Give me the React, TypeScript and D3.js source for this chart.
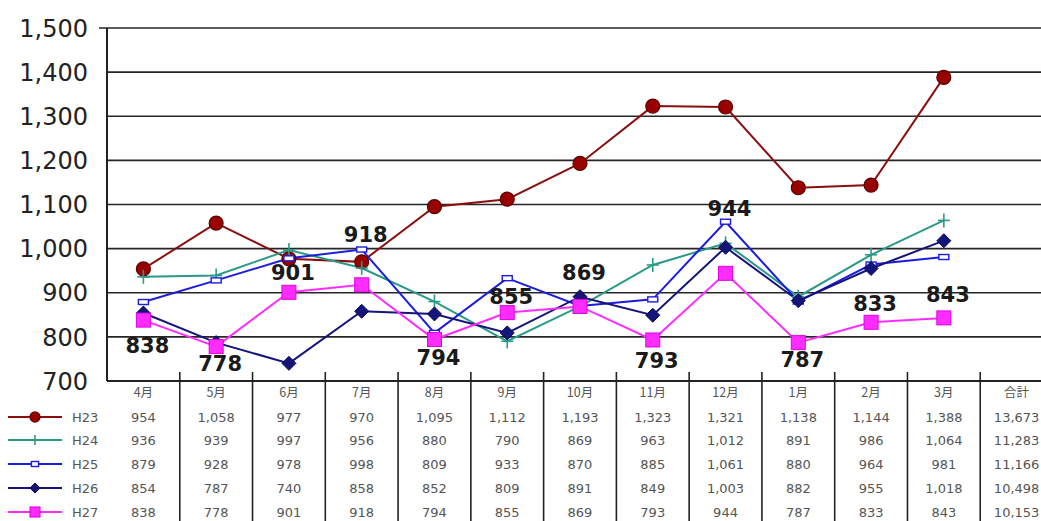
import React from "react";
import * as d3 from "d3";

const months = ["4月", "5月", "6月", "7月", "8月", "9月", "10月", "11月", "12月", "1月", "2月", "3月"];
const totalLabel = "合計";
const seriesNames = ["H23", "H24", "H25", "H26", "H27"];
const h23 = [954, 1058, 977, 970, 1095, 1112, 1193, 1323, 1321, 1138, 1144, 1388];
const h24 = [936, 939, 997, 956, 880, 790, 869, 963, 1012, 891, 986, 1064];
const h25 = [879, 928, 978, 998, 809, 933, 870, 885, 1061, 880, 964, 981];
const h26 = [854, 787, 740, 858, 852, 809, 891, 849, 1003, 882, 955, 1018];
const h27 = [838, 778, 901, 918, 794, 855, 869, 793, 944, 787, 833, 843];
const totals = [13673, 11283, 11166, 10498, 10153];
const yTicks = [700, 800, 900, 1000, 1100, 1200, 1300, 1400, 1500];
// label offsets for H27 data labels (style)
const labelDy = [25, 17, -20, -50, 18, -16, -34, 20, -65, 17, -19, -23];

const W = 1041;
const H = 521;
const left = 107;
const top = 28;
const bottom = 381;

const colors = {
  H23: "#8b0f0f",
  H24: "#2a9a88",
  H25: "#1c1ce0",
  H26: "#14147a",
  H27: "#ff2cff",
};

export default function App() {
  const allCats = [...months, totalLabel];
  const x = d3.scaleBand<string>().domain(allCats).range([left, 1053]).padding(0);
  const bw = x.bandwidth();
  const cx = (m: string) => (x(m) as number) + bw / 2;
  const y = d3.scaleLinear().domain([700, 1500]).range([bottom, top]);
  const fmt = d3.format(",");
  const seriesData = [h23, h24, h25, h26, h27];
  const line = d3
    .line<number>()
    .x((_, i) => cx(months[i]))
    .y((v) => y(v));

  const marker = (name: string, px: number, py: number, key: string | number, s = 1) => {
    const c = (colors as any)[name];
    if (name === "H23")
      return <circle key={key} cx={px} cy={py} r={7 * s} fill="#990000" stroke="#5c0000" strokeWidth={1.2} />;
    if (name === "H24")
      return (
        <g key={key} stroke={c} strokeWidth={1.6}>
          <line x1={px - 6 * s} x2={px + 6 * s} y1={py} y2={py} />
          <line x1={px} x2={px} y1={py - 7 * s} y2={py + 7 * s} />
        </g>
      );
    if (name === "H25")
      return <rect key={key} x={px - 5 * s} y={py - 2.5} width={10 * s} height={5} fill="#fff" stroke={c} strokeWidth={1.4} />;
    if (name === "H26") {
      const r = 7 * s;
      return (
        <path key={key} d={`M${px},${py - r}L${px + r},${py}L${px},${py + r}L${px - r},${py}Z`} fill={c} stroke="#0a0a50" strokeWidth={1} />
      );
    }
    return <rect key={key} x={px - 7 * s} y={py - 7 * s} width={14 * s} height={14 * s} fill={c} stroke="#e000e0" strokeWidth={1} />;
  };

  const rowY = [417, 440, 464, 488, 512];

  return (
    <svg width={W} height={H} style={{ position: "absolute", left: 0, top: 0, background: "#fff" }}>
      {/* gridlines */}
      {yTicks.map((t) => (
        <line key={t} x1={left - (t === 1500 ? 8 : 0)} x2={W} y1={y(t)} y2={y(t)} stroke="#262626" strokeWidth={1.6} />
      ))}
      {/* y axis */}
      <line x1={left} x2={left} y1={top} y2={bottom} stroke="#222" strokeWidth={2} />
      <line x1={left} x2={W} y1={bottom} y2={bottom} stroke="#222" strokeWidth={2.2} />
      {/* y tick labels */}
      {yTicks.map((t) => (
        <text key={t} x={88} y={y(t)} dy="0.36em" textAnchor="end" fontFamily="DejaVu Sans, Verdana, sans-serif" fontSize={24} fill="#222">
          {fmt(t)}
        </text>
      ))}
      {/* table vertical lines */}
      {allCats.slice(1).map((m) => (
        <line key={m} x1={x(m) as number} x2={x(m) as number} y1={372} y2={H} stroke="#222" strokeWidth={1.6} />
      ))}
      {/* series lines */}
      {seriesNames.map((n, si) => (
        <path key={n} d={line(seriesData[si]) as string} fill="none" stroke={(colors as any)[n]} strokeWidth={2} />
      ))}
      {/* markers */}
      {seriesNames.map((n, si) => (
        <g key={n}>{seriesData[si].map((v, i) => marker(n, cx(months[i]), y(v), i))}</g>
      ))}
      {/* data labels for H27 */}
      {h27.map((v, i) => (
        <text
          key={i}
          x={cx(months[i]) + 4}
          y={y(v) + labelDy[i]}
          dy="0.36em"
          textAnchor="middle"
          fontFamily="DejaVu Sans, Verdana, sans-serif"
          fontWeight="bold"
          fontSize={21}
          fill="#1a1a1a"
        >
          {fmt(v)}
        </text>
      ))}
      {/* table header */}
      {allCats.map((m) => (
        <text key={m} x={cx(m)} y={392} dy="0.36em" textAnchor="middle" fontFamily="Noto Sans CJK JP, sans-serif" fontSize={12.5} fill="#555">
          {m}
        </text>
      ))}
      {/* table rows */}
      {seriesNames.map((n, si) => (
        <g key={n}>
          <line x1={8} x2={62} y1={rowY[si]} y2={rowY[si]} stroke={(colors as any)[n]} strokeWidth={2.2} />
          {marker(n, 35, rowY[si], "lg", 0.72)}
          <text x={72} y={rowY[si]} dy="0.36em" fontFamily="DejaVu Sans, Verdana, sans-serif" fontSize={13} fill="#555">
            {n}
          </text>
          {seriesData[si].map((v, i) => (
            <text key={i} x={cx(months[i])} y={rowY[si]} dy="0.36em" textAnchor="middle" fontFamily="DejaVu Sans, Verdana, sans-serif" fontSize={13} fill="#555">
              {fmt(v)}
            </text>
          ))}
          <text x={cx(totalLabel)} y={rowY[si]} dy="0.36em" textAnchor="middle" fontFamily="DejaVu Sans, Verdana, sans-serif" fontSize={13} fill="#555">
            {fmt(totals[si])}
          </text>
        </g>
      ))}
    </svg>
  );
}
